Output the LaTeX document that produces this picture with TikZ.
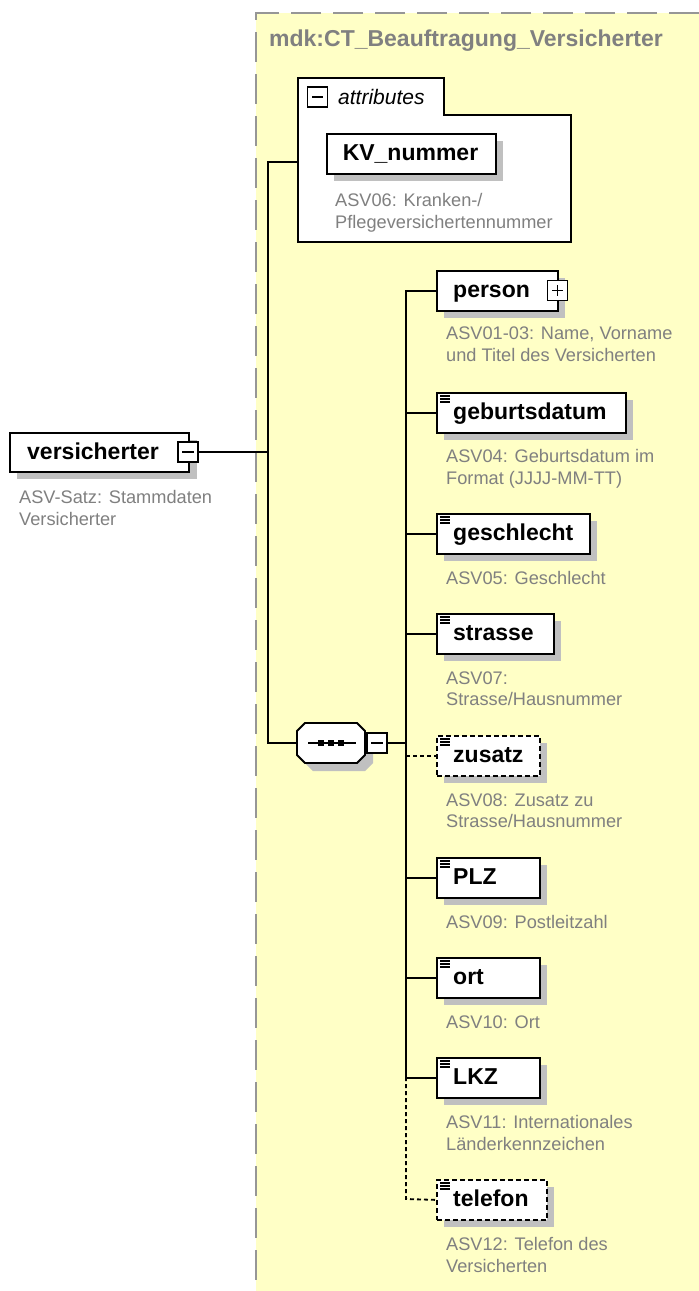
\documentclass[tikz,border=0pt]{standalone}
\usepackage{fontspec}
\setmainfont{Liberation Sans}
\definecolor{ctfill}{RGB}{255,255,198}
\definecolor{ctborder}{RGB}{150,150,150}
\definecolor{shadowc}{RGB}{192,192,192}
\definecolor{desct}{RGB}{128,128,128}
\tikzset{
  boxline/.style={draw=black, line width=1.8pt, fill=white},
  elembox/.style={boxline, rectangle, minimum height=40pt, inner sep=0pt},
  optional/.style={dash pattern=on 5pt off 3pt},
  lbl/.style={font=\fontsize{23}{23}\selectfont\bfseries, inner sep=0pt, anchor=base west},
  desc/.style={font=\fontsize{18.2}{21.5}\selectfont, text=desct, align=left, anchor=north west, inner sep=0pt},
  conn/.style={line width=1.8pt},
  optconn/.style={line width=1.8pt, dash pattern=on 4pt off 3pt},
  sq/.style={draw=black, line width=1.4pt, fill=white, minimum size=20pt, inner sep=0pt, rectangle},
  icon/.style={line width=1.1pt},
}
% element box: name, x, ytop, width, label, extra style
\newcommand{\xelem}[6]{%
  \fill[shadowc] (#2+8,#3+8) rectangle (#2+#4+8,#3+48);
  \node[elembox,#6,minimum width=#4pt,anchor=north west] (#1) at (#2,#3) {};
  \node[lbl] (#1-t) at (453,#3+27.5) {#5};
}
\newcommand{\xicon}[1]{%
  \draw[icon] (440,#1+4) -- (450,#1+4);
  \draw[icon] (440,#1+7) -- (450,#1+7);
  \draw[icon] (440,#1+10) -- (450,#1+10);
}
\begin{document}
\begin{tikzpicture}[x=1pt,y=-1pt]
\useasboundingbox (0,0) rectangle (699,1291);
\fill[white] (0,0) rectangle (699,1291);
% complex type area
\fill[ctfill] (256,13) rectangle (699,1291);
\draw[ctborder, line width=2pt, dash pattern=on 30pt off 12pt] (699,13) -- (256,13) -- (256,1291);
\node[font=\fontsize{23}{23}\selectfont\bfseries, text=desct, anchor=base west, inner sep=0pt] (ctitle) at (269,46) {mdk:CT\_Beauftragung\_Versicherter};

% root element
\fill[shadowc] (17,440) rectangle (197,479);
\node[elembox, minimum width=179pt, minimum height=39pt, anchor=north west] (vers) at (9,432) {};
\node[lbl] (vers-t) at (27,459) {versicherter};
\node[sq] (vers-m) at (188,452) {};
\draw[line width=1.4pt] (182,452) -- (194,452);
\node[desc] (vers-d) at (19,490.5) {ASV-Satz: Stammdaten\\Versicherter};

% attributes group
\draw[boxline] (298,78) -- (444,78) -- (444,115) -- (571,115) -- (571,242) -- (298,242) -- cycle;
\node[sq] (attr-m) at (317.5,97) {};
\draw[line width=1.4pt] (312,97) -- (323,97);
\node[font=\fontsize{21}{21}\selectfont\itshape, anchor=base west, inner sep=0pt] (attr-t) at (338,104) {attributes};
\fill[shadowc] (334,141) rectangle (503,181);
\node[elembox, minimum width=169pt, anchor=north west] (kv) at (326,133) {};
\node[font=\fontsize{23}{23}\selectfont\bfseries, anchor=base, inner sep=0pt] (kv-t) at (410.5,160.5) {KV\_nummer};
\node[desc] (kv-d) at (335,193.5) {ASV06: Kranken-/\\Pflegeversichertennummer};
\coordinate (attr-w) at (298,162);

% sequence compositor
\fill[shadowc] (313,731) -- (365,731) -- (373,739) -- (373,763) -- (365,771) -- (313,771) -- (305,763) -- (305,739) -- cycle;
\draw[boxline] (305,723) -- (357,723) -- (365,731) -- (365,755) -- (357,763) -- (305,763) -- (297,755) -- (297,731) -- cycle;
\coordinate (seq-w) at (297,743);
\draw[line width=1.4pt] (308,743) -- (356,743);
\fill (318,740) rectangle (324,746);
\fill (328,740) rectangle (334,746);
\fill (338,740) rectangle (344,746);
\node[sq] (seq-m) at (377,743) {};
\draw[line width=1.4pt] (371,743) -- (383,743);

% root trunk
\coordinate (j-top) at (268,162);
\coordinate (j-root) at (268,452);
\coordinate (j-bot) at (268,743);
\draw[conn] (vers-m.east) -- (j-root);
\draw[conn] (attr-w) -- (j-top) -- (j-bot) -- (seq-w);

% children
\xelem{person}{436}{270}{121}{person}{}
\node[sq] (person-p) at (557.5,290.5) {};
\draw[line width=1.4pt] (552,290.5) -- (563,290.5) (557.5,285) -- (557.5,296);
\node[desc] (person-d) at (446,327) {ASV01-03: Name, Vorname\\und Titel des Versicherten};

\xelem{geb}{436}{392}{189}{geburtsdatum}{}
\xicon{392}
\node[desc] (geb-d) at (446,449.5) {ASV04: Geburtsdatum im\\Format (JJJJ-MM-TT)};

\xelem{ges}{436}{513}{153}{geschlecht}{}
\xicon{513}
\node[desc] (ges-d) at (446,571.5) {ASV05: Geschlecht};

\xelem{str}{436}{613}{117}{strasse}{}
\xicon{613}
\node[desc] (str-d) at (446,671.5) {ASV07:\\Strasse/Hausnummer};

\xelem{zus}{436}{735}{103}{zusatz}{optional}
\xicon{735}
\node[desc] (zus-d) at (446,793.5) {ASV08: Zusatz zu\\Strasse/Hausnummer};

\xelem{plz}{436}{857}{103}{PLZ}{}
\xicon{857}
\node[desc] (plz-d) at (446,915.5) {ASV09: Postleitzahl};

\xelem{ort}{436}{957}{103}{ort}{}
\xicon{957}
\node[desc] (ort-d) at (446,1015.5) {ASV10: Ort};

\xelem{lkz}{436}{1057}{103}{LKZ}{}
\xicon{1057}
\node[desc] (lkz-d) at (446,1115.5) {ASV11: Internationales\\Länderkennzeichen};

\xelem{tel}{436}{1179}{110}{telefon}{optional}
\xicon{1179}
\node[desc] (tel-d) at (446,1237.5) {ASV12: Telefon des\\Versicherten};

% child trunk
\coordinate (c-seq) at (406,743);
\coordinate (c-top) at (406,290);
\coordinate (c-lkz) at (406,1077);
\coordinate (c-tel) at (406,1199);
\draw[conn] (seq-m.east) -- (c-seq);
\draw[conn] (c-top) -- (c-lkz);
\draw[optconn] (c-lkz) -- (c-tel) -- (tel.west);
\draw[conn] (person.west -| c-top) -- (person.west);
\draw[conn] (geb.west -| c-top) -- (geb.west);
\draw[conn] (ges.west -| c-top) -- (ges.west);
\draw[conn] (str.west -| c-top) -- (str.west);
\draw[optconn] (zus.west -| c-top) -- (zus.west);
\draw[conn] (plz.west -| c-top) -- (plz.west);
\draw[conn] (ort.west -| c-top) -- (ort.west);
\draw[conn] (lkz.west -| c-top) -- (lkz.west);
\end{tikzpicture}
\end{document}
